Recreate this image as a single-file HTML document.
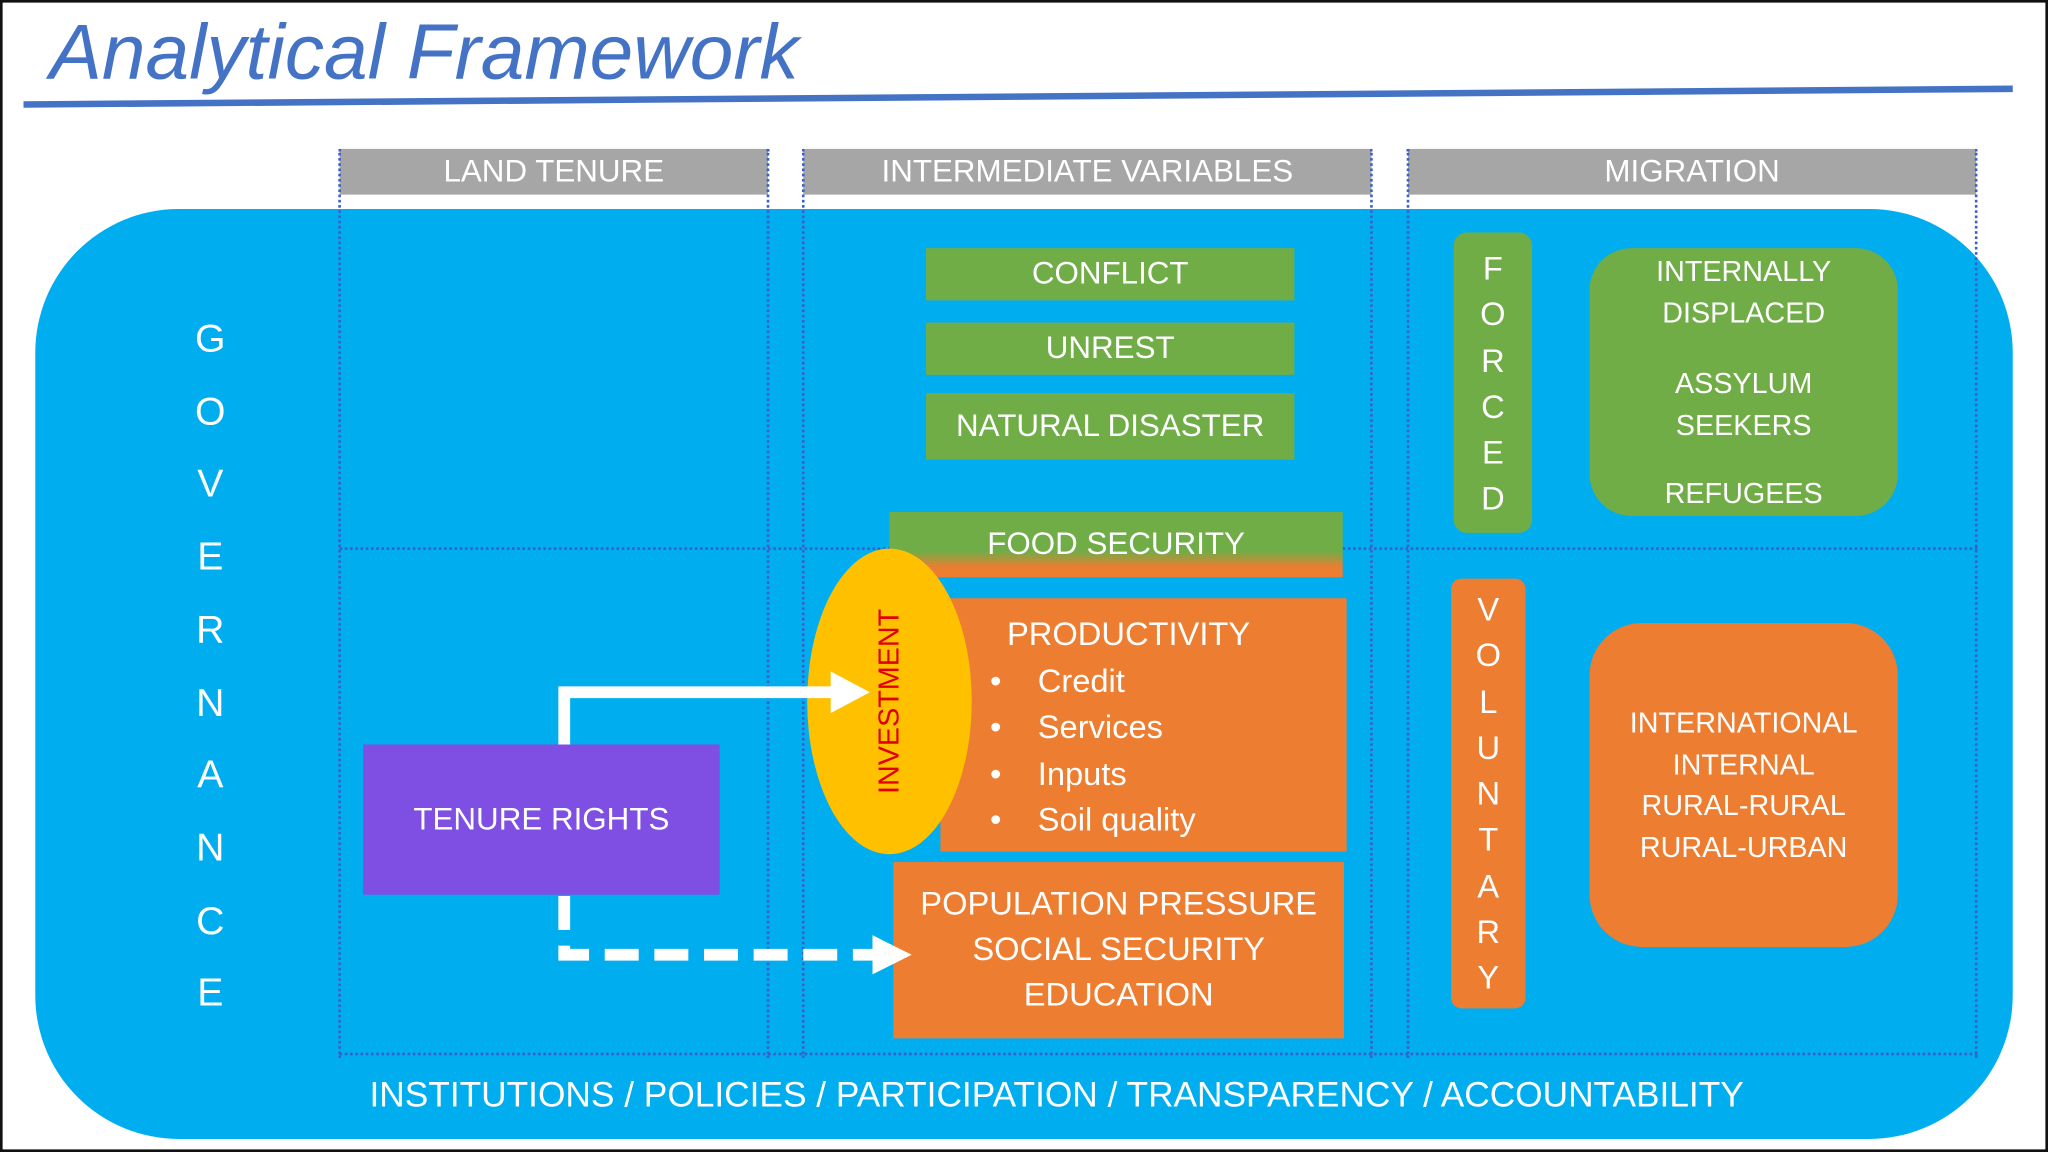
<!DOCTYPE html>
<html><head><meta charset="utf-8"><style>
html,body{margin:0;padding:0;background:#fff;}
#wrap{width:2048px;height:1152px;overflow:hidden;position:relative;}
#s{width:1568px;height:882px;position:absolute;left:0;top:0;transform:scale(1.306122);transform-origin:0 0;font-family:"Liberation Sans",sans-serif;color:#fff;}
.a{position:absolute;box-sizing:border-box;}
.c{display:flex;align-items:center;justify-content:center;text-align:center;}
.hd{background:#a6a6a6;font-size:24px;height:35px;top:114px;}
.g{background:#70ad47;font-size:24px;}
.o{background:#ed7d31;}
.vl{position:absolute;border-left:2px dotted #3a5fc8;top:114px;height:696px;width:0;}
.lt{font-size:25px;line-height:35.3px;text-align:center;}
</style></head><body><div id="wrap"><div id="s">
<div class="a" style="left:0;top:0;width:1568px;height:882px;border:2px solid #111;"></div>
<div class="a" style="left:38px;top:5px;font-size:60px;font-style:italic;color:#4472c4;">Analytical Framework</div>
<svg class="a" style="left:0;top:0" width="1568" height="882"><line x1="18" y1="80" x2="1541" y2="68" stroke="#4472c4" stroke-width="5"/></svg>
<div class="a" style="left:27px;top:160px;width:1514px;height:712px;background:#00aeef;border-radius:110px;"></div>
<div class="a hd c" style="left:260px;width:328px;">LAND TENURE</div>
<div class="a hd c" style="left:615px;width:435px;">INTERMEDIATE VARIABLES</div>
<div class="a hd c" style="left:1078px;width:435px;">MIGRATION</div>
<div class="vl" style="left:259px"></div><div class="vl" style="left:587px"></div>
<div class="vl" style="left:614px"></div><div class="vl" style="left:1049px"></div>
<div class="vl" style="left:1077px"></div><div class="vl" style="left:1512px"></div>
<div class="a" style="left:260px;top:419px;width:1254px;border-top:2px dotted #3a5fc8;"></div>
<div class="a" style="left:260px;top:806px;width:1254px;border-top:2px dotted #3a5fc8;"></div>
<div class="a" style="left:140px;top:232px;width:42px;font-size:30px;text-align:center;line-height:55.7px;">G<br>O<br>V<br>E<br>R<br>N<br>A<br>N<br>C<br>E</div>
<div class="a g c" style="left:709px;top:190px;width:282px;height:40px;">CONFLICT</div>
<div class="a g c" style="left:709px;top:247px;width:282px;height:40px;">UNREST</div>
<div class="a g c" style="left:709px;top:301px;width:282px;height:51px;">NATURAL DISASTER</div>
<div class="a c" style="left:681px;top:392px;width:347px;height:50px;font-size:24px;background:linear-gradient(#70ad47 0,#70ad47 60%,#ed7d31 85%);">FOOD SECURITY</div>
<div class="a o" style="left:720px;top:458px;width:311px;height:194px;font-size:25px;">
<div style="position:absolute;left:51px;top:14px;">PRODUCTIVITY</div>
<div style="position:absolute;left:38px;top:47px;line-height:35.3px;">•&nbsp;&nbsp;&nbsp;&nbsp;Credit<br>•&nbsp;&nbsp;&nbsp;&nbsp;Services<br>•&nbsp;&nbsp;&nbsp;&nbsp;Inputs<br>•&nbsp;&nbsp;&nbsp;&nbsp;Soil quality</div></div>
<div class="a c" style="left:618px;top:420px;width:126px;height:234px;border-radius:50%;background:#ffc000;"><div style="transform:rotate(-90deg);color:#e00000;font-size:22px;white-space:nowrap;">INVESTMENT</div></div>
<div class="a o c lt" style="left:684px;top:660px;width:345px;height:135px;">POPULATION PRESSURE<br>SOCIAL SECURITY<br>EDUCATION</div>
<div class="a c" style="left:278px;top:570px;width:273px;height:115px;background:#7f4fe3;font-size:24px;">TENURE RIGHTS</div>
<svg class="a" style="left:0;top:0" width="1568" height="882">
<polyline points="432,570 432,530 640,530" fill="none" stroke="#fff" stroke-width="9"/>
<polygon points="636,514 666,530 636,546" fill="#fff"/>
<polyline points="432,686 432,731 670,731" fill="none" stroke="#fff" stroke-width="9" stroke-dasharray="26,12"/>
<polygon points="668,716 698,731 668,746" fill="#fff"/>
</svg>
<div class="a" style="left:1113px;top:178px;width:60px;height:230px;background:#70ad47;border-radius:10px;font-size:25px;text-align:center;line-height:35.3px;padding-top:11px;">F<br>O<br>R<br>C<br>E<br>D</div>
<div class="a" style="left:1111px;top:443px;width:57px;height:329px;background:#ed7d31;border-radius:8px;font-size:25px;text-align:center;line-height:35.3px;padding-top:7px;">V<br>O<br>L<br>U<br>N<br>T<br>A<br>R<br>Y</div>
<div class="a" style="left:1217px;top:190px;width:236px;height:205px;background:#70ad47;border-radius:32px;font-size:22px;text-align:center;line-height:31.5px;padding-top:2px;">INTERNALLY<br>DISPLACED<div style="height:23px"></div>ASSYLUM<br>SEEKERS<div style="height:21px"></div>REFUGEES</div>
<div class="a o c" style="left:1217px;top:477px;width:236px;height:248px;border-radius:40px;font-size:22px;line-height:31.5px;">INTERNATIONAL<br>INTERNAL<br>RURAL-RURAL<br>RURAL-URBAN</div>
<div class="a" style="left:0;top:823px;width:1618px;text-align:center;font-size:27px;">INSTITUTIONS / POLICIES / PARTICIPATION / TRANSPARENCY / ACCOUNTABILITY</div>
</div></div></body></html>
